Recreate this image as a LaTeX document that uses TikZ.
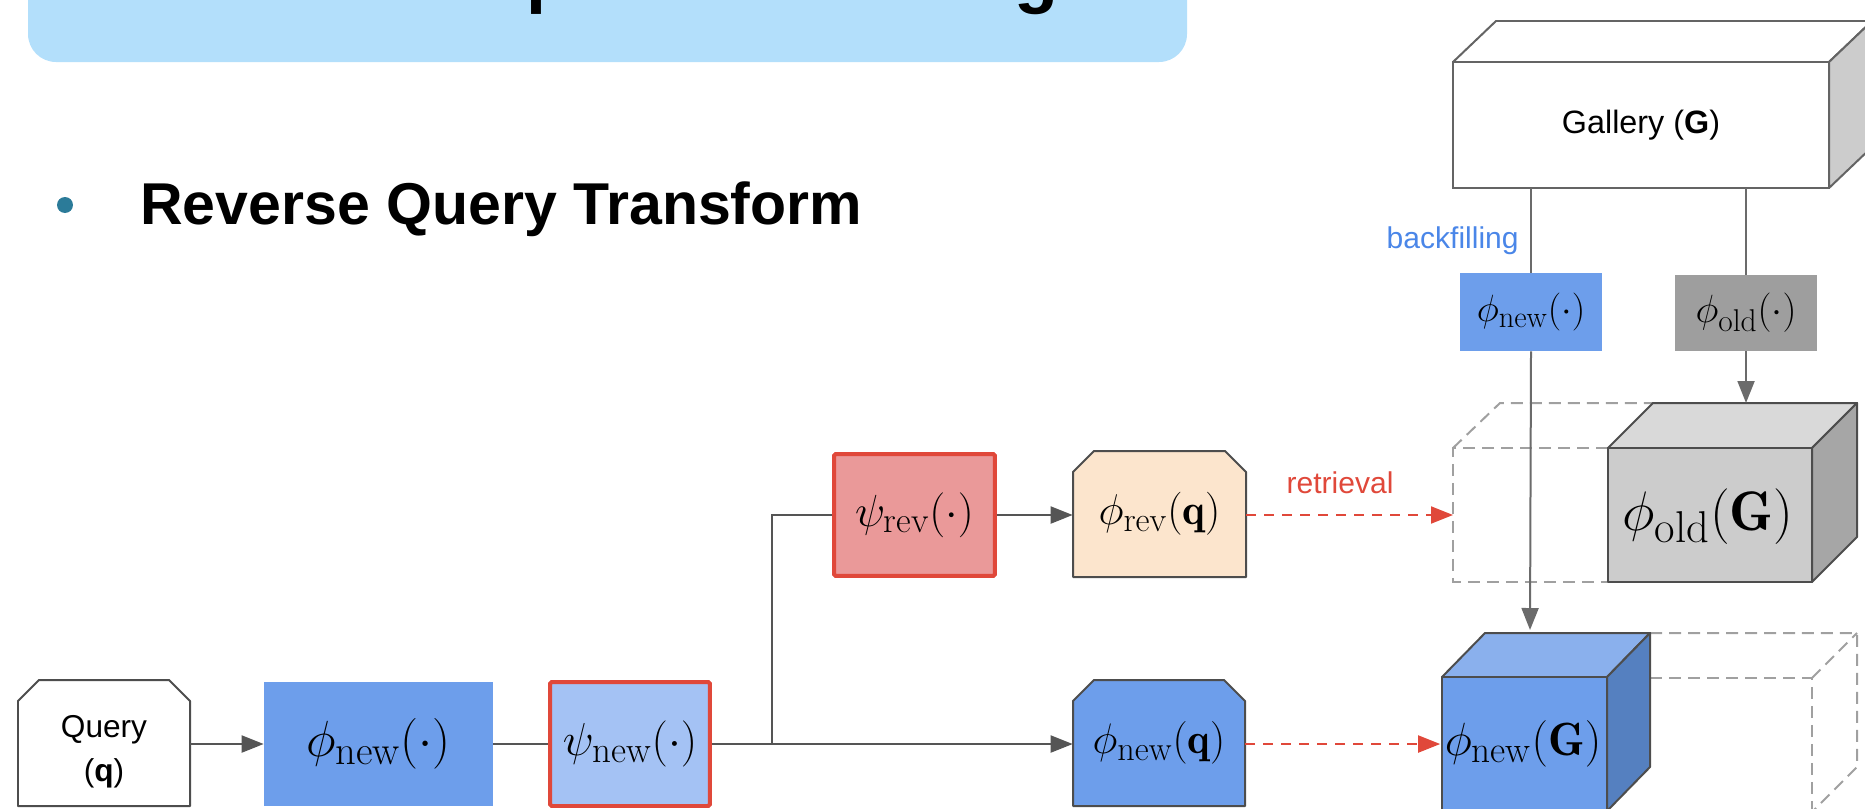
\RequirePackage{fix-cm}
\documentclass[tikz,border=0pt]{standalone}
\usepackage{fontspec}
\newfontfamily\lsans{Liberation Sans}
\renewcommand\defaultscriptratio{.8}
\renewcommand\defaultscriptscriptratio{.6}
\usetikzlibrary{arrows.meta,calc}
\definecolor{cgray}{HTML}{555555}
\definecolor{cvline}{HTML}{6B6B6B}
\definecolor{cedge}{HTML}{4D4D4D}
\definecolor{cgal}{HTML}{646464}
\definecolor{cghost}{HTML}{A0A0A0}
\definecolor{cred}{HTML}{E0483A}
\definecolor{cblue}{HTML}{4A86E8}
\definecolor{titlebg}{HTML}{B3DFFB}
\definecolor{bulletc}{HTML}{2B7B99}
\definecolor{bluef}{HTML}{6D9EEB}
\definecolor{bluetop}{HTML}{8AB0ED}
\definecolor{blueside}{HTML}{5580C0}
\definecolor{lightblue}{HTML}{A4C2F4}
\definecolor{pinkf}{HTML}{EA9999}
\definecolor{peach}{HTML}{FCE5CD}
\definecolor{grayf}{HTML}{9E9E9E}
\definecolor{oldfront}{HTML}{CCCCCC}
\definecolor{oldtopc}{HTML}{D9D9D9}
\definecolor{oldside}{HTML}{A6A6A6}
\definecolor{galside}{HTML}{CCCCCC}
\begin{document}
\begin{tikzpicture}[x=0.02cm,y=-0.02cm,
  conn/.style={draw=cgray, line width=0.04cm},
  vconn/.style={draw=cvline, line width=0.04cm},
  tip/.style={-{Triangle[length=0.44cm,width=0.34cm]}},
  rdash/.style={draw=cred, line width=0.04cm, dash pattern=on 0.2cm off 0.16cm, -{Triangle[length=0.44cm,width=0.34cm]}},
  ghost/.style={draw=cghost, line width=0.04cm, dash pattern=on 0.24cm off 0.14cm},
  edgeline/.style={draw=cedge, line width=0.04cm, line join=round},
  lbl/.style={font=\lsans\fontsize{17.1pt}{24.5pt}\selectfont, inner sep=0pt},
  box/.style={rectangle, inner sep=0pt},
  redbox/.style={box, draw=cred, line width=0.08cm, rounded corners=1pt},
]
\useasboundingbox (0,0) rectangle (1865,808);

% title banner
\fill[titlebg, rounded corners=0.56cm] (28,-60) rectangle (1187,62);
\node[anchor=base west, inner sep=0pt, font=\lsans\bfseries\fontsize{41pt}{48pt}\selectfont] (title) at (134,-1) {Metric Compatible Training};

% bullet
\fill[bulletc] (65,205) circle[radius=0.16cm];
\node[anchor=base west, inner sep=0pt, font=\lsans\bfseries\fontsize{33.6pt}{40pt}\selectfont] (bullettext) at (140,224) {Reverse Query Transform};

% gallery cube
\path[draw=cgal, line width=0.04cm, line join=round, fill=white] (1453,62) -- (1496,21) -- (1872,21) -- (1829,62) -- cycle;
\path[draw=cgal, line width=0.04cm, line join=round, fill=galside] (1829,62) -- (1872,21) -- (1872,147) -- (1829,188) -- cycle;
\path[draw=cgal, line width=0.04cm, fill=white] (1453,62) rectangle (1829,188);
\node[box, font=\lsans\fontsize{18.4pt}{22pt}\selectfont, minimum width=7.52cm, minimum height=2.52cm] (gallery) at (1641,125) {Gallery (\textbf{G})};

\node[lbl, text=cblue, anchor=base east] (bf) at (1519,248) {backfilling};

% encoders for gallery
\node[box, fill=bluef, minimum width=2.84cm, minimum height=1.56cm, font=\fontsize{21.6pt}{24pt}\selectfont] (phinewtop) at (1531,312) {$\phi_{\mathrm{new}}(\cdot)$};
\node[box, fill=grayf, minimum width=2.84cm, minimum height=1.52cm, font=\fontsize{22.4pt}{24pt}\selectfont] (phioldtop) at (1746,313) {$\phi_{\mathrm{old}}(\cdot)$};
\draw[vconn] (phinewtop.north |- gallery.south) -- (phinewtop.north);
\draw[vconn] (phioldtop.north |- gallery.south) -- (phioldtop.north);

% ghost of old cube
\draw[ghost] (1608,448) -- (1453,448) -- (1453,582) -- (1608,582);
\draw[ghost] (1453,448) -- (1500,403) -- (1653,403);
\coordinate (oldghost) at (1453,515);

% backfilling arrow
\coordinate (newtop) at (1530,630);
\draw[vconn, tip] (phinewtop.south) -- (newtop);

% old cube
\path[edgeline, fill=oldtopc] (1608,448) -- (1653,403) -- (1857,403) -- (1812,448) -- cycle;
\path[edgeline, fill=oldside] (1812,448) -- (1857,403) -- (1857,537) -- (1812,582) -- cycle;
\path[edgeline, fill=oldfront] (1608,448) rectangle (1812,582);
\node[box, minimum width=4.08cm, minimum height=2.68cm, font=\fontsize{31.7pt}{34pt}\selectfont] (oldcube) at (1708,517) {$\phi_{\mathrm{old}}(\mathbf{G})$};
\coordinate (oldtop) at (1746,403);
\draw[vconn, tip] (phioldtop.south) -- (oldtop);

% ghost of new cube
\draw[ghost] (1650,633) -- (1857,633) -- (1857,767) -- (1812,812);
\draw[ghost] (1650,678) -- (1812,678) -- (1812,812);
\draw[ghost] (1812,678) -- (1857,633);

% new cube
\path[edgeline, fill=bluetop] (1442,677) -- (1485,633) -- (1650,633) -- (1607,677) -- cycle;
\path[edgeline, fill=blueside] (1607,677) -- (1650,633) -- (1650,767) -- (1607,811) -- cycle;
\path[edgeline, fill=bluef] (1442,677) rectangle (1607,811);
\node[box, minimum width=3.3cm, minimum height=2.68cm, font=\fontsize{26.5pt}{29pt}\selectfont] (newcube) at (1523,744) {$\phi_{\mathrm{new}}(\mathbf{G})$};

% query
\path[edgeline, fill=white] (18,806) -- (18,701) -- (39,680) -- (169,680) -- (190,701) -- (190,806) -- cycle;
\node[box, font=\lsans\fontsize{18pt}{25pt}\selectfont, align=center, minimum width=3.44cm, minimum height=2.52cm] (query) at (104,752) {Query\\(\textbf{q})};

% new encoder and transform
\node[box, fill=bluef, minimum width=4.58cm, minimum height=2.48cm, font=\fontsize{28.9pt}{31pt}\selectfont] (phinew) at (378.5,744) {$\phi_{\mathrm{new}}(\cdot)$};
\node[redbox, fill=lightblue, minimum width=3.2cm, minimum height=2.48cm, font=\fontsize{26.3pt}{28pt}\selectfont] (psinew) at (630,744) {$\psi_{\mathrm{new}}(\cdot)$};
\node[redbox, fill=pinkf, minimum width=3.22cm, minimum height=2.44cm, font=\fontsize{25.6pt}{28pt}\selectfont] (psirev) at (914.5,515) {$\psi_{\mathrm{rev}}(\cdot)$};

% query features
\path[edgeline, fill=peach] (1073,577) -- (1073,472) -- (1094,451) -- (1225,451) -- (1246,472) -- (1246,577) -- cycle;
\node[box, minimum width=3.46cm, minimum height=2.52cm, font=\fontsize{24.5pt}{27pt}\selectfont] (phirevq) at (1159.5,514) {$\phi_{\mathrm{rev}}(\mathbf{q})$};
\path[edgeline, fill=bluef] (1073,806) -- (1073,701) -- (1094,680) -- (1224,680) -- (1245,701) -- (1245,806) -- cycle;
\node[box, minimum width=3.44cm, minimum height=2.52cm, font=\fontsize{24.3pt}{27pt}\selectfont] (phinewq) at (1159,743) {$\phi_{\mathrm{new}}(\mathbf{q})$};

% connectors
\coordinate (jn) at (772,744);
\draw[conn, tip] (query.east |- phinew.west) -- (phinew.west);
\draw[conn] (phinew.east) -- (psinew.west);
\draw[conn] (psinew.east) -- (jn) -- (jn |- psirev.west) -- (psirev.west);
\draw[conn, tip] (jn) -- (jn -| phinewq.west);
\draw[conn, tip] (psirev.east) -- (psirev.east -| phirevq.west);
\draw[rdash] (phirevq.east |- oldghost) -- (oldghost);
\draw[rdash] (phinewq.east |- newcube.west) -- (newcube.west);
\node[lbl, text=cred, anchor=base] (retr) at (1340,493) {retrieval};
\end{tikzpicture}
\end{document}
